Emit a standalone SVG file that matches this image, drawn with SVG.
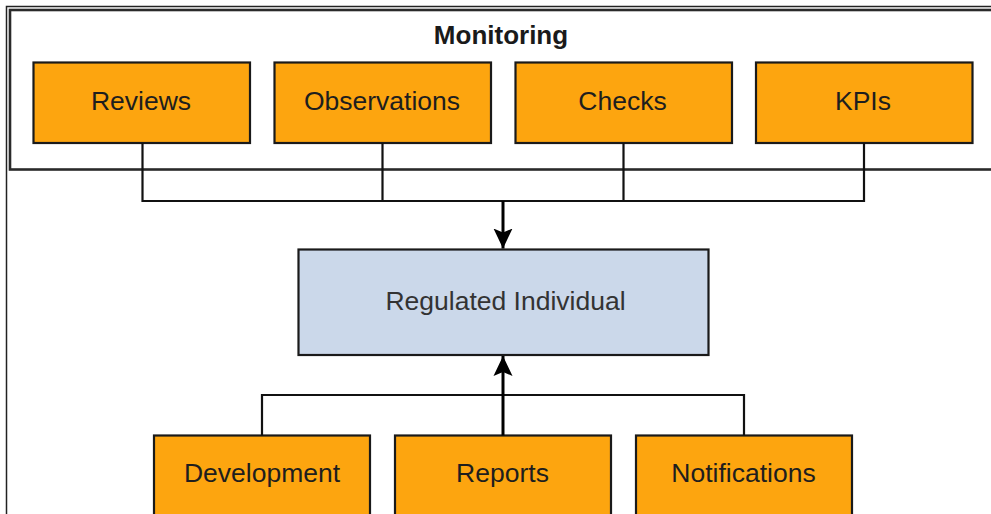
<svg xmlns="http://www.w3.org/2000/svg" width="991" height="514" viewBox="0 0 991 514">
<style>
.box{fill:#FDA50F;stroke:#1a1a1a;stroke-width:2.2}
.center{fill:#CBD8EA;stroke:#1a1a1a;stroke-width:2.2}
.lbl{font-family:"Liberation Sans",Arial,sans-serif;font-size:26.5px;fill:#1e1e1e;text-anchor:middle}
.title{font-family:"Liberation Sans",Arial,sans-serif;font-size:26px;font-weight:bold;fill:#1a1a1a;text-anchor:middle}
.wire{fill:none;stroke:#111;stroke-width:2.2}
.shaft{fill:none;stroke:#000;stroke-width:3}
</style>
<defs>
<marker id="ah" viewBox="0 0 20 20" refX="20" refY="10" markerWidth="20" markerHeight="20" markerUnits="userSpaceOnUse" orient="auto">
<path d="M0,0.5 L20,10 L0,19.5 L4,10 Z" fill="#000"/>
</marker>
</defs>
<rect width="991" height="514" fill="#fff"/>
<g id="frame">
<path d="M6.5,514 V6.5 H991" fill="none" stroke="#222" stroke-width="1.5"/>
</g>
<g id="monitoring">
<rect x="10" y="10" width="995" height="159.5" fill="none" stroke="#2a2a2a" stroke-width="2.6"/>
<text class="title" x="501" y="44">Monitoring</text>
</g>
<g id="reviews">
<rect class="box" x="33.5" y="62.5" width="216.5" height="80.5"/>
<text class="lbl" x="141" y="110">Reviews</text>
</g>
<g id="observations">
<rect class="box" x="274.5" y="62.5" width="216.5" height="80.5"/>
<text class="lbl" x="382" y="110">Observations</text>
</g>
<g id="checks">
<rect class="box" x="515.5" y="62.5" width="216.5" height="80.5"/>
<text class="lbl" x="622.5" y="110">Checks</text>
</g>
<g id="kpis">
<rect class="box" x="756" y="62.5" width="216.5" height="80.5"/>
<text class="lbl" x="863" y="110">KPIs</text>
</g>
<g id="regulated">
<rect class="center" x="298.5" y="249.5" width="410" height="105.5"/>
<text class="lbl" x="505.5" y="309.5" style="fill:#333">Regulated Individual</text>
</g>
<g id="development">
<rect class="box" x="154" y="435.5" width="216" height="90"/>
<text class="lbl" x="262" y="482">Development</text>
</g>
<g id="reports">
<rect class="box" x="395" y="435.5" width="216" height="90"/>
<text class="lbl" x="502.5" y="482">Reports</text>
</g>
<g id="notifications">
<rect class="box" x="636" y="435.5" width="216" height="90"/>
<text class="lbl" x="743.5" y="482">Notifications</text>
</g>
<g id="connectors">
<path class="wire" d="M142.5,143 V201 H864 V143 M382.5,143 V201 M623.5,143 V201"/>
<path class="shaft" d="M503,201 V248.5" marker-end="url(#ah)"/>
<path class="wire" d="M262,435.5 V395 H744 V435.5"/>
<path class="shaft" d="M503,435.5 V356" marker-end="url(#ah)"/>
</g>
</svg>
